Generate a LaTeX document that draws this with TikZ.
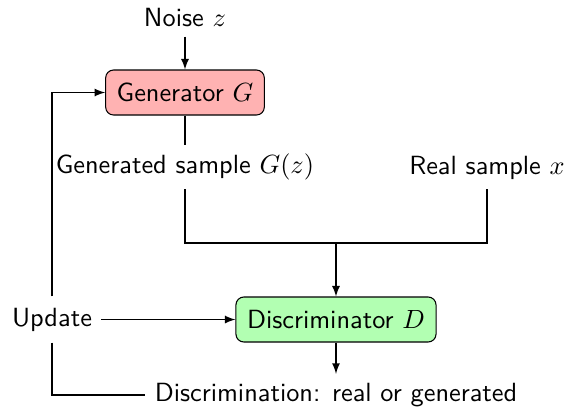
\documentclass[tikz,border=0pt]{standalone}
\usetikzlibrary{arrows}
\begin{document}
\begin{tikzpicture}[x=0.38pt,y=-0.38pt, font=\sffamily, >=latex,
  blockbox/.style={draw, rounded corners=3pt, inner xsep=4.2pt, minimum height=17.1pt},
  plainlabel/.style={}]
\useasboundingbox (0,0) rectangle (576,406);
\node[plainlabel] (noise) at (185,18) {Noise $z$};
\node[blockbox, fill=red!30] (gen) at (185,92.5) {Generator $G$};
\node[plainlabel] (gs) at (185,167) {Generated sample $G(z)$};
\node[plainlabel] (rs) at (487,168) {Real sample $x$};
\coordinate (merge) at (336,243);
\node[blockbox, fill=green!30] (disc) at (336,319.5) {Discriminator $D$};
\node[plainlabel, minimum height=17.1pt] (upd) at (52,319.5) {Update};
\node[plainlabel] (res) at (336,395) {Discrimination: real or generated};
\draw[->] (noise) -- (gen);
\draw (gen) -- (gs);
\draw (gs) |- (merge) -| (rs);
\draw[->] (merge) -- (disc);
\draw[->] (upd) -- (disc);
\draw[->] (upd) |- (gen);
\draw (upd) |- (res);
\draw[->] (disc) -- (res);
\end{tikzpicture}
\end{document}
